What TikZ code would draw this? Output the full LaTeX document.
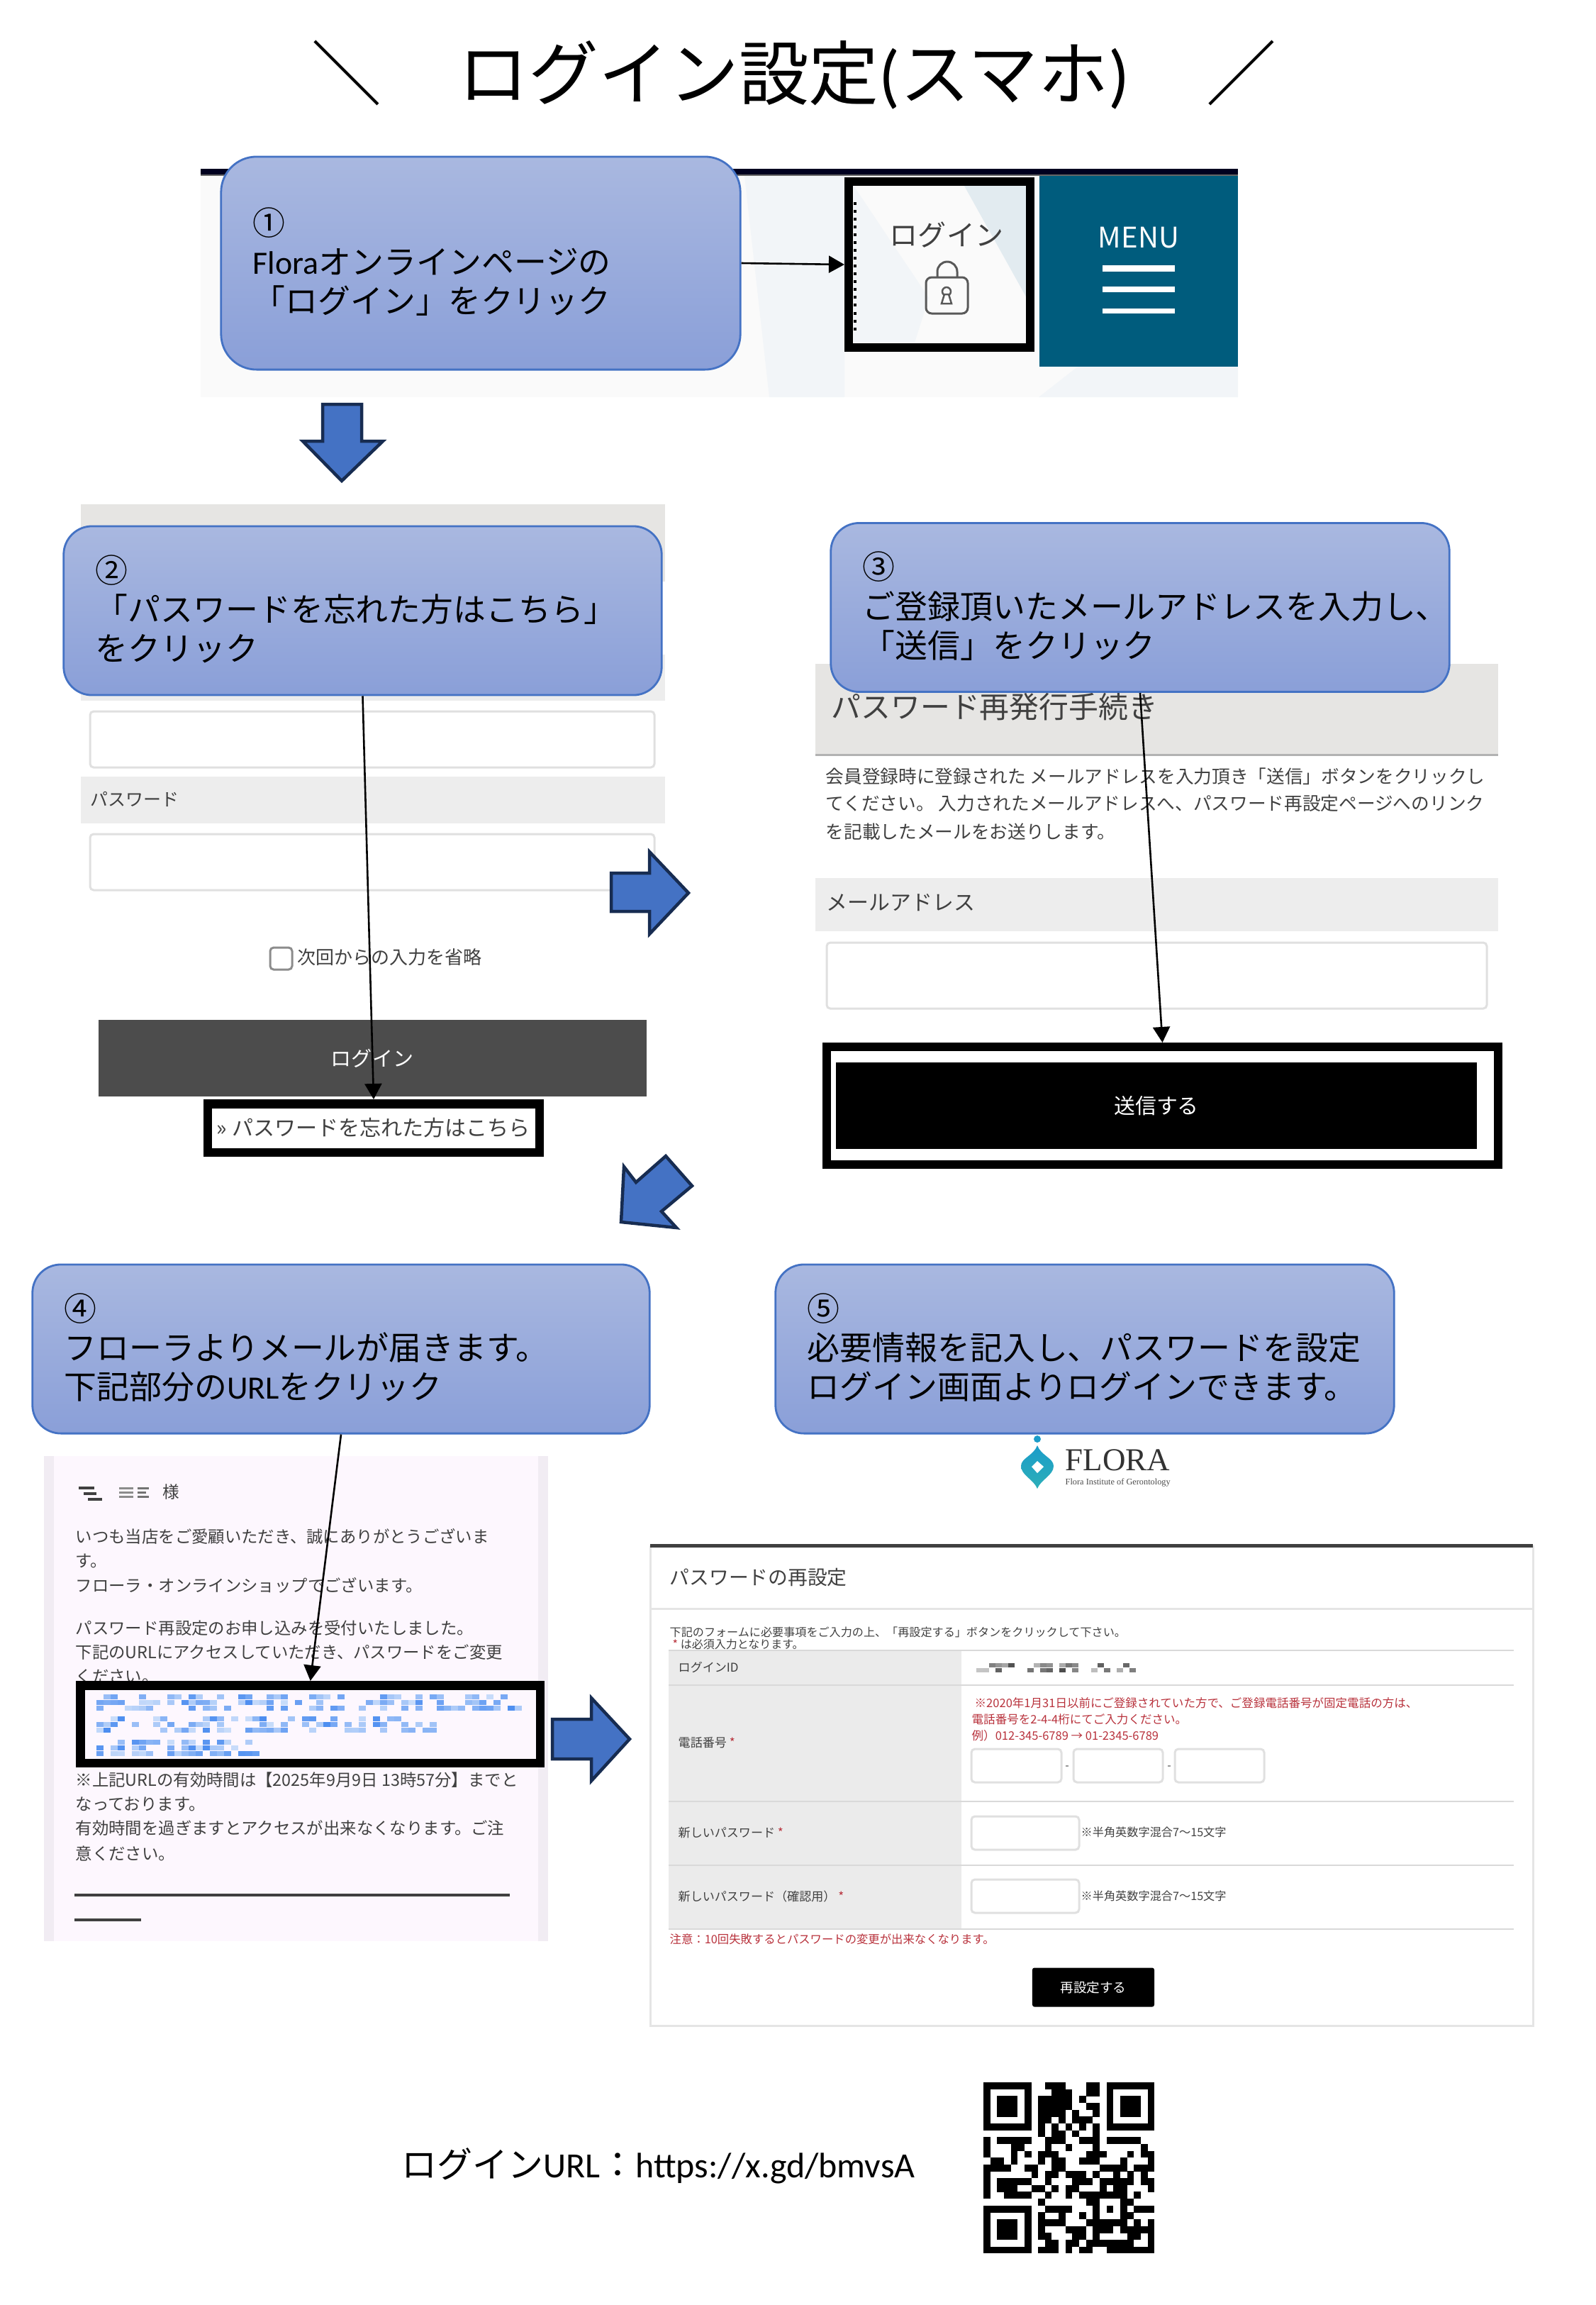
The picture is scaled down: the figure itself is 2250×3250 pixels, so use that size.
\documentclass[tikz,border=0pt]{standalone}
\usepackage{fontspec}
\setmainfont{Noto Sans CJK JP}
\newfontfamily\logofont{Liberation Serif}
\newfontfamily\latinfont{Carlito}
\usetikzlibrary{arrows.meta}
\hfuzz=60pt
\newcommand\fsz[1]{\fontsize{#1}{#1}\selectfont}
\definecolor{boxedge}{HTML}{4472C4}
\definecolor{boxtop}{HTML}{A9B8E0}
\definecolor{boxbottom}{HTML}{8A9FD8}
\definecolor{arrowedge}{HTML}{172C51}
\definecolor{menublue}{HTML}{005C7D}
\definecolor{bandgray}{HTML}{E6E5E3}
\definecolor{lightband}{HTML}{EDEDED}
\definecolor{mailbg}{HTML}{FDF7FE}
\definecolor{mailside}{HTML}{F1ECF3}
\definecolor{linkblue}{HTML}{4C8DF0}
\definecolor{formred}{HTML}{B8323C}
\definecolor{inktext}{HTML}{404040}
\definecolor{facetpale}{HTML}{F2F5F8}
\definecolor{facetblue}{HTML}{E2EBF0}
\definecolor{logoblue}{HTML}{1B9CC9}
\definecolor{logoteal}{HTML}{2DAFB8}
\tikzset{
  callout/.style={draw=boxedge,line width=.028cm,top color=boxtop,bottom color=boxbottom,
    rounded corners=.4cm,inner xsep=.45cm,inner ysep=0pt,minimum height=2.38cm,align=left,
    font=\fontsize{13.05}{15.65}\selectfont,execute at end node={\par\vspace{1.1pt}}},
  hitbox/.style={draw=black,line width=.12cm,inner sep=0pt},
  pointer/.style={-{Triangle[length=.22cm,width=.24cm]},line width=.026cm},
  blockarrow/.style={draw=arrowedge,fill=boxedge,line width=.045cm,line join=miter},
  inputbox/.style={draw=black!12,fill=white,line width=.03cm,rounded corners=.05cm},
  label/.style={text=inktext,inner sep=0pt,anchor=west},
}
\begin{document}
\begin{tikzpicture}[x=0.01cm,y=-0.01cm]
  \useasboundingbox (0,0) rectangle (2250,3250);

  \node (title) at (1120,106) {\fontsize{28.1}{30}\selectfont ＼\hspace{.1em}　ログイン設定{\latinfont(}スマホ{\latinfont)}　\hspace{.1em}／};

  % header
  \fill[black!2] (283,238) rectangle (1746,560);
  \fill[facetpale] (1050,248) -- (1191,248) -- (1191,560) -- (1085,560) -- cycle;
  \fill[facetpale] (1204,262) -- (1310,420) -- (1290,483) -- (1204,483) -- cycle;
  \fill[facetblue] (1360,262) -- (1448,262) -- (1448,420) -- cycle;
  \fill[facetpale] (1465,560) -- (1520,517) -- (1746,517) -- (1746,560) -- cycle;
  \fill[black!88!blue] (283,238) rectangle (1746,246);
  \fill[black!60] (283,246) rectangle (1746,248);
  \fill[menublue] (1466,248) rectangle (1746,517);
  \node[text=white,inner sep=0pt] (menu) at (1606,335) {\fsz{11.4}MENU};
  \fill[white] (1555,374) rectangle (1657,383);
  \fill[white] (1555,404) rectangle (1657,412);
  \fill[white] (1555,435) rectangle (1657,442);
  \node[text=inktext,inner sep=0pt] (logintext) at (1335,331) {\fsz{11.4}ログイン};
  \draw[black!65,line width=.03cm] (1322,391) -- (1322,383) arc (180:360:14) -- (1350,391);
  \draw[black!65,line width=.03cm,rounded corners=.08cm] (1306,391) rectangle (1365,442);
  \draw[black!65,line width=.025cm] (1335,411) circle (6);
  \draw[black!65,line width=.025cm,fill=white] (1332,415) -- (1328,428) -- (1342,428) -- (1338,415) -- cycle;
  \draw[dotted,line width=.04cm] (1206,285) -- (1206,470);
  \node[hitbox,minimum width=2.56cm,minimum height=2.34cm] (loginbox) at (1325,373) {};

  \draw[blockarrow] (455,570) -- (510,570) -- (510,622) -- (540,622) -- (482,678) -- (427,622) -- (455,622) -- cycle;

  % login form
  \fill[bandgray] (114,711) rectangle (938,820);
  \fill[lightband] (114,923) rectangle (938,988);
  \draw[inputbox] (127,1003) rectangle (923,1082);
  \fill[lightband] (114,1095) rectangle (938,1161);
  \node[label] (pwlabel) at (127,1127) {\fsz{7.1}パスワード};
  \draw[inputbox] (127,1176) rectangle (923,1255);
  \draw[black!45,line width=.03cm,rounded corners=.05cm] (381,1336) rectangle (412,1367);
  \node[label] (savetext) at (419,1350) {\fsz{7.4}次回からの入力を省略};
  \fill[black!70] (139,1438) rectangle (912,1546);
  \node[text=white,inner sep=0pt] (loginbtn) at (525,1492) {\fsz{8.25}ログイン};
  \node[hitbox,line width=.125cm,fill=white,text=inktext,minimum width=4.675cm,minimum height=.685cm] (linkbox) at (527,1590.5) {\fsz{8.55}» パスワードを忘れた方はこちら};

  \draw[blockarrow] (862,1231) -- (916,1231) -- (916,1201) -- (971,1259) -- (916,1317) -- (916,1285) -- (862,1285) -- cycle;

  % mail form
  \fill[bandgray] (1150,936) rectangle (2113,1064);
  \draw[black!30,line width=.03cm] (1150,1064) -- (2113,1064);
  \node[label] (resendhead) at (1172,997) {\fsz{11.9}パスワード再発行手続き};
  \foreach \i/\y/\s in {1/1095/会員登録時に登録された メールアドレスを入力頂き「送信」ボタンをクリックし,
                        2/1133/てください。 入力されたメールアドレスへ、パスワード再設定ページへのリンク,
                        3/1173/を記載したメールをお送りします。}{
    \node[label] (resend\i) at (1164,\y) {\fsz{7.3}\s};
  }
  \fill[lightband] (1150,1238) rectangle (2113,1313);
  \node[label] (maillabel) at (1165,1273) {\fsz{8.5}メールアドレス};
  \draw[inputbox] (1166,1329) rectangle (2097,1422);
  \node[hitbox,fill=white,minimum width=9.47cm,minimum height=1.66cm] (sendbox) at (1639.5,1559) {};
  \node[fill=black,text=white,minimum width=9.04cm,minimum height=1.22cm,inner sep=0pt] (sendbtn) at (1631,1559) {\fsz{8.5}送信する};

  \draw[blockarrow] (939,1630) -- (976,1672) -- (933,1708) -- (954,1731) -- (876,1723) -- (880,1645) -- (897,1667) -- cycle;

  % mail screenshot
  \fill[mailside] (62,2053) rectangle (773,2737);
  \fill[mailbg] (76,2053) rectangle (759,2737);
  \draw[inktext,line width=.04cm] (111,2098) -- (133,2098) (118,2106) -- (136,2106) (124,2114) -- (144,2114);
  \draw[black!45,line width=.03cm] (168,2098) -- (188,2098) (168,2104) -- (188,2104) (168,2110) -- (188,2110);
  \draw[black!55,line width=.03cm] (194,2098) -- (210,2098) (194,2104) -- (206,2104) (194,2110) -- (210,2110);
  \node[label] (sama) at (229,2104) {\fsz{6.7}様};
  \foreach \i/\y/\s in {1/2166/いつも当店をご愛顧いただき、誠にありがとうございま,
                        2/2201/す。,
                        3/2235/フローラ・オンラインショップでございます。,
                        4/2296/パスワード再設定のお申し込みを受付いたしました。,
                        5/2330/下記のURLにアクセスしていただき、パスワードをご変更,
                        6/2364/ください。,
                        7/2510/※上記URLの有効時間は【2025年9月9日 13時57分】までと,
                        8/2544/なっております。,
                        9/2578/有効時間を過ぎますとアクセスが出来なくなります。ご注,
                        10/2613/意ください。}{
    \node[label] (mail\i) at (106,\y) {\fsz{6.65}\s};
  }
  \draw[inktext,line width=.035cm] (105,2672) -- (719,2672);
  \draw[inktext,line width=.035cm] (105,2707) -- (199,2707);
  \node[hitbox,line width=.125cm,fill=mailbg,minimum width=6.48cm,minimum height=1.095cm] (urlbox) at (437.75,2431) {};
  \pgfmathsetseed{11}
  \foreach \ya/\xa/\xb in {2389/136/736,2420/136/621,2453/136/374}{
    \pgfmathsetmacro\cnt{int((\xb-\xa)/10)}
    \foreach \k in {1,...,\cnt}{
      \foreach \j in {0,1,2}{
        \pgfmathsetmacro\on{rnd}
        \pgfmathsetmacro\shade{30+rnd*70}
        \ifdim\on pt<.5pt
          \fill[linkblue!\shade!white] ({\xa+\k*10-10},{\ya+\j*8}) rectangle +(10,7);
        \fi
      }
    }
  }

  \draw[blockarrow] (779,2424) -- (834,2424) -- (834,2394) -- (888,2452) -- (834,2511) -- (834,2480) -- (779,2480) -- cycle;

  % logo
  \fill[logoblue] (1463,2029) circle (5);
  \shade[top color=logoblue,bottom color=logoteal] (1463,2038) .. controls (1468,2052) and (1486,2056) .. (1486,2067) .. controls (1486,2080) and (1468,2086) .. (1463,2099) .. controls (1458,2086) and (1440,2080) .. (1440,2067) .. controls (1440,2056) and (1458,2052) .. (1463,2038) -- cycle;
  \fill[white] (1463,2060) -- (1472,2068) -- (1463,2077) -- (1455,2068) -- cycle;
  \node[inner sep=0pt,text=black!80,anchor=base west] (flora) at (1502,2073) {\logofont\fontsize{12.8}{13}\selectfont FLORA};
  \node[inner sep=0pt,text=black!70,anchor=base west] (florasub) at (1502,2093) {\logofont\fontsize{3.5}{4}\selectfont Flora Institute of Gerontology};

  % reset form
  \draw[black!10,line width=.03cm] (917,2180) rectangle (2162,2856);
  \fill[black!75] (917,2177) rectangle (2162,2182);
  \node[label] (resethead) at (944,2224) {\fsz{7.9}パスワードの再設定};
  \draw[black!10,line width=.03cm] (917,2268) -- (2162,2268);
  \node[label] (resetnote) at (944,2301) {\fsz{4.58}下記のフォームに必要事項をご入力の上、「再設定する」ボタンをクリックして下さい。};
  \node[label] (resetreq) at (948,2318) {\fsz{4.55}\textcolor{formred}{*} は必須入力となります。};
  \fill[black!8] (943,2327) rectangle (1356,2720);
  \foreach \y in {2327,2376,2540,2630,2720}{
    \draw[black!15,line width=.025cm] (943,\y) -- (2135,\y);
  }
  \foreach \i/\y/\s in {1/2351/ログインID,
                        2/2457/電話番号 \textcolor{formred}{*},
                        3/2584/新しいパスワード \textcolor{formred}{*},
                        4/2674/新しいパスワード（確認用） \textcolor{formred}{*}}{
    \node[label] (rowlabel\i) at (956,\y) {\fsz{4.85}\s};
  }
  \pgfmathsetseed{5}
  \foreach \k in {1,...,25}{
    \foreach \j in {0,1}{
      \pgfmathsetmacro\on{rnd}
      \pgfmathsetmacro\shade{20+rnd*50}
      \ifdim\on pt<.45pt
        \fill[black!\shade] ({1377+\k*9-9},{2345+\j*7}) rectangle +(9,6);
      \fi
    }
  }
  \node[label,text=formred] (phonenote1) at (1374,2401) {\fsz{4.7}※2020年1月31日以前にご登録されていた方で、ご登録電話番号が固定電話の方は、};
  \node[label,text=formred] (phonenote2) at (1370,2424) {\fsz{4.7}電話番号を2-4-4桁にてご入力ください。};
  \node[label,text=formred] (phonenote3) at (1370,2447) {\fsz{4.7}例）012-345-6789 → 01-2345-6789};
  \draw[inputbox] (1370,2466) rectangle (1497,2513);
  \draw[inputbox] (1514,2466) rectangle (1640,2513);
  \draw[inputbox] (1657,2466) rectangle (1783,2513);
  \draw[black!40] (1503,2490) -- (1507,2490);
  \draw[black!40] (1647,2490) -- (1651,2490);
  \draw[inputbox] (1370,2561) rectangle (1522,2608);
  \draw[inputbox] (1370,2650) rectangle (1522,2697);
  \node[label] (pwhint1) at (1524,2583) {\fsz{4.6}※半角英数字混合7～15文字};
  \node[label] (pwhint2) at (1524,2673) {\fsz{4.6}※半角英数字混合7～15文字};
  \node[label,text=formred] (failnote) at (944,2734) {\fsz{4.65}注意：10回失敗するとパスワードの変更が出来なくなります。};
  \node[fill=black,text=white,rounded corners=.03cm,minimum width=1.72cm,minimum height=.55cm,inner sep=0pt] (resetbtn) at (1542,2802) {\fsz{5.3}再設定する};

  % url and code
  \node[inner sep=0pt,anchor=west] (loginurl) at (566,3054) {\fontsize{14.2}{16}\selectfont ログイン{\latinfont URL}：{\latinfont https://x.gd/bmvsA}};
  \begin{scope}[shift={(1387,2936)},x=0.0964cm,y=-0.0964cm]
    \foreach \r/\runs in {0/{0/7,9/3,15/2,18/7},
      1/{0/1,6/1,10/3,15/2,18/1,24/1},
      2/{0/1,2/3,6/1,8/5,14/1,18/1,20/3,24/1},
      3/{0/1,2/3,6/1,8/5,15/2,18/1,20/3,24/1},
      4/{0/1,2/3,6/1,8/4,13/1,16/1,18/1,20/3,24/1},
      5/{0/1,6/1,8/2,11/1,13/3,18/1,24/1},
      6/{0/7,8/1,10/1,12/1,14/1,16/1,18/7},
      7/{8/1,10/2,13/1,16/1},
      8/{0/1,2/5,9/3,14/3,18/5},
      9/{0/1,4/2,9/1,12/1,16/1,23/1},
      10/{0/1,4/1,6/1,8/3,15/3,21/1,23/2},
      11/{1/2,4/1,8/1,10/2,14/3,20/1,24/1},
      12/{0/4,6/2,10/2,17/4,22/3},
      13/{0/1,7/1,9/2,12/3,16/1,19/1,21/1,23/1},
      14/{0/1,2/5,9/1,13/3,17/5,23/2},
      15/{0/1,2/3,7/2,10/1,12/2,17/1,19/2,24/1},
      16/{0/1,3/4,9/1,12/1,14/7,22/1},
      17/{8/1,15/2,20/2},
      18/{0/7,9/4,16/1,18/1,20/1,22/3},
      19/{0/1,6/1,8/1,11/1,14/1,16/1,20/2},
      20/{0/1,2/3,6/1,8/4,15/6,22/1,24/1},
      21/{0/1,2/3,6/1,8/1,12/3,16/3,20/5},
      22/{0/1,2/3,6/1,8/2,13/2,16/1,21/2,24/1},
      23/{0/1,6/1,9/2,12/2,15/7,24/1},
      24/{0/7,8/3,12/1,14/2,18/7}}{
      \foreach \c/\len in \runs {
        \fill[black] (\c,\r) rectangle ++(\len,1.03);
      }
    }
  \end{scope}

  % callouts
  \node[callout,rounded corners=.5cm,minimum height=3cm,text width=6.42cm] (step1) at (678,371) {①\\{\latinfont Flora}オンラインページの\\「ログイン」をクリック};
  \node[callout,text width=7.53cm] (step2) at (511.5,861) {②\\「パスワードを忘れた方はこちら」\\をクリック};
  \node[callout,text width=7.82cm] (step3) at (1608,856.5) {③\\ご登録頂いたメールアドレスを入力し、\\「送信」をクリック};
  \node[callout,text width=7.8cm] (step4) at (481,1902) {④\\フローラよりメールが届きます。\\下記部分の{\latinfont URL}をクリック};
  \node[callout,text width=7.82cm] (step5) at (1530,1902) {⑤\\必要情報を記入し、パスワードを設定\\ログイン画面よりログインできます。};

  \draw[pointer] (step1.east) -- (loginbox.west);
  \draw[pointer] (step2.south) -- (linkbox.north);
  \draw[pointer] (step3.south) -- (sendbox.north);
  \draw[pointer] (step4.south) -- (urlbox.north);
\end{tikzpicture}
\end{document}
